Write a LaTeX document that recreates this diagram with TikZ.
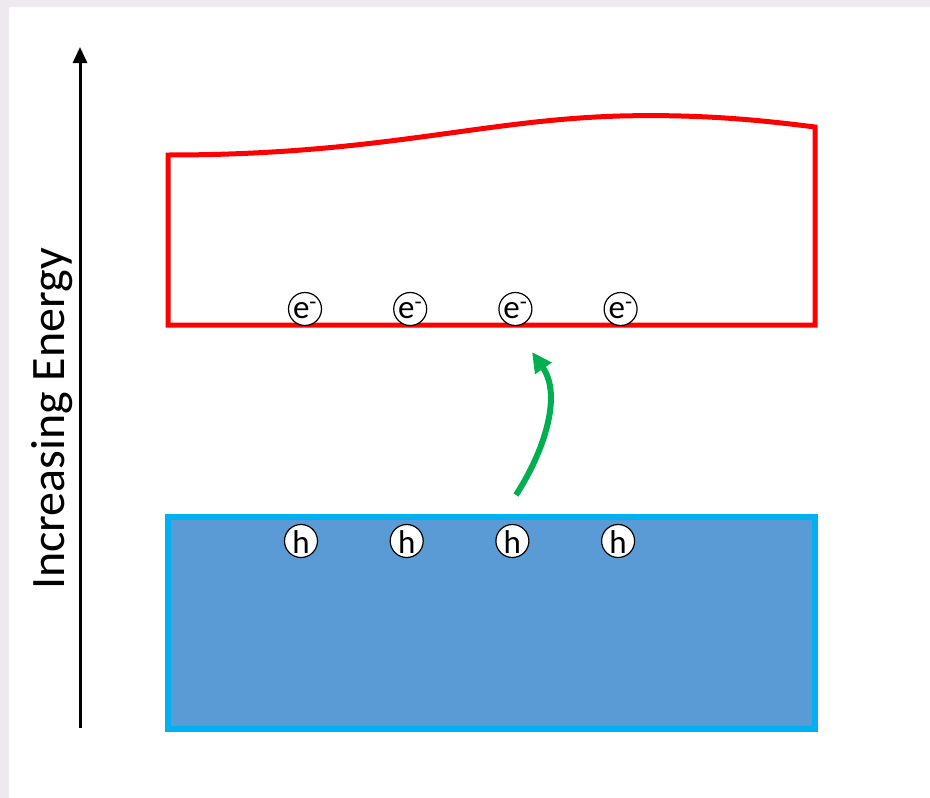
\documentclass[tikz,border=0pt]{standalone}
\usepackage{fontspec}
\setmainfont{Carlito}
\usetikzlibrary{arrows.meta, positioning, calc}
\definecolor{cb_red}{HTML}{FF0000}
\definecolor{vb_fill}{HTML}{5B9BD5}
\definecolor{vb_edge}{HTML}{00B0F0}
\definecolor{exc_green}{HTML}{00B050}
\definecolor{slide_bg}{HTML}{EEE9EE}
\tikzset{
  carrier/.style={circle,draw=black,line width=1.2pt,fill=white,inner sep=0pt,minimum size=33pt},
  carriertext/.style={font=\fontsize{33}{33}\selectfont,inner sep=0pt},
  electron/.style={carrier,label={[carriertext,yshift=-1pt]center:e\textsuperscript{-}}},
  hole/.style={carrier,label={[carriertext,yshift=-1pt]center:h}},
  band_cb/.style={draw=cb_red,line width=5pt},
  band_vb/.style={draw=vb_edge,fill=vb_fill,line width=5.5pt},
  axis/.style={line width=3pt,black,-{Triangle[length=16pt,width=14pt]}},
  excite/.style={line width=6pt,exc_green,-{Triangle[length=20pt,width=19pt]}},
}

\begin{document}
\begin{tikzpicture}[x=1pt,y=-1pt]
	    \useasboundingbox (0,0) rectangle (930,798);
	    \fill[slide_bg] (0,0) rectangle (930,7) (0,0) rectangle (9,798);
	    % energy axis
	    \coordinate (axis_low) at (80,728);
	    \coordinate (axis_high) at (80,47);
	    \draw[axis] (axis_low) -- (axis_high);
	    \node[rotate=90,anchor=base,font=\fontsize{48}{50}\selectfont] (energy) at (64,419) {Increasing Energy};
	    % conduction band
	    \draw[band_cb] (168,155) .. controls (380,155) and (480,120) .. (620,116)
	        .. controls (700,114) and (760,120) .. (815,127) -- (815,325) -- (168,325) -- cycle;
	    % valence band
	    \draw[band_vb] (168,517) rectangle (815,729);
	    \node[electron] (e1) at (305,309) {};
	    \node[electron,right=71pt of e1] (e2) {};
	    \node[electron,right=71pt of e2] (e3) {};
	    \node[electron,right=71pt of e3] (e4) {};
	    \node[hole] (h1) at (301,541) {};
	    \node[hole,right=71.5pt of h1] (h2) {};
	    \node[hole,right=71.5pt of h2] (h3) {};
	    \node[hole,right=71.5pt of h3] (h4) {};
	    % excitation
	    \coordinate (exc_start) at (516,495);
	    \coordinate (exc_end) at (532,352);
	    \draw[excite] (exc_start) .. controls (545,450) and (562,395) .. (exc_end);
	\end{tikzpicture}
\end{document}
